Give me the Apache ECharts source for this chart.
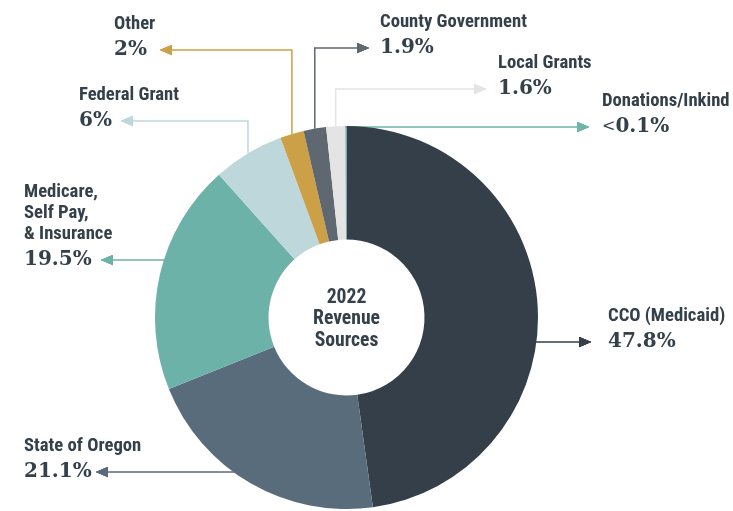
<!DOCTYPE html>
<html>
<head>
<meta charset="utf-8">
<script src="https://cdn.jsdelivr.net/npm/echarts@6/dist/echarts.min.js"></script>
<style>
  html, body { margin: 0; padding: 0; background: #fff; }
  #main { width: 733px; height: 511px; }
</style>
</head>
<body>
<div id="main"></div>
<script>
// revenue sources, clockwise from 12 o'clock
const sources = ['CCO (Medicaid)', 'State of Oregon', 'Medicare,\nSelf Pay,\n& Insurance', 'Federal Grant', 'Other', 'County Government', 'Local Grants', 'Donations/Inkind'];
const shares = [47.8, 21.1, 19.5, 6, 2, 1.9, 1.6, 0.1];
const shareLabels = ['47.8%', '21.1%', '19.5%', '6%', '2%', '1.9%', '1.6%', '<0.1%'];
const colors = ['#343f49', '#586c7b', '#6cb2a9', '#bed7da', '#cba046', '#5f6770', '#e4e4e4', '#6fb5aa'];

const CX = 346.5, CY = 317.5, R0 = 78, R1 = 191.5;
const ink = '#34404a';
const pctFont = "'DejaVu Serif', serif";
const ARW = 13, ARH = 11;

// first condensed face that is really installed, sized so the names keep the original width
const measureCtx = document.createElement('canvas').getContext('2d');
function textWidth(font, str) { measureCtx.font = font; return measureCtx.measureText(str).width; }
function pickFont(list) {
  const probe = 'County Government';
  const base = textWidth('bold 40px monospace', probe);
  for (const f of list) {
    if (textWidth("bold 40px '" + f + "', monospace", probe) !== base) return "'" + f + "'";
  }
  return 'sans-serif';
}
const nameFont = pickFont(['Liberation Sans Narrow', 'Roboto Condensed', 'Noto Sans Condensed', 'Open Sans Condensed', 'DejaVu Sans Condensed', 'Roboto']);
const nameSize = Math.min(19, 40 * 147 / textWidth('bold 40px ' + nameFont, 'County Government'));
const centerSize = Math.min(20, 40 * 67 / textWidth('bold 40px ' + nameFont, 'Revenue'));

// callout placement (text left edge, % line centre, arrow tip, leader shape)
const spots = [
  { side: 'right', textX: 608, pctY: 342, tipX: 592, path: 'flat' },
  { side: 'left', textX: 24, pctY: 472, tipX: 95, path: 'drop', from: [260, 442] },
  { side: 'left', textX: 24, pctY: 260, tipX: 100, path: 'flat' },
  { side: 'left', textX: 79, pctY: 121, tipX: 120, path: 'up' },
  { side: 'left', textX: 114, pctY: 50, tipX: 159, path: 'up' },
  { side: 'right', textX: 380, pctY: 48, tipX: 370, path: 'up' },
  { side: 'right', textX: 498, pctY: 89, tipX: 487, path: 'up' },
  { side: 'right', textX: 602, pctY: 127, tipX: 590, path: 'up' }
];

function arrowImg(color, dir) {
  const c = document.createElement('canvas');
  c.width = ARW * 4; c.height = ARH * 4;
  const g = c.getContext('2d');
  g.fillStyle = color;
  g.beginPath();
  if (dir === 'left') {
    g.moveTo(0, c.height / 2); g.lineTo(c.width, 0); g.lineTo(c.width, c.height);
  } else {
    g.moveTo(c.width, c.height / 2); g.lineTo(0, 0); g.lineTo(0, c.height);
  }
  g.closePath();
  g.fill();
  return c;
}

function callout(i) {
  const s = spots[i];
  const names = sources[i].split('\n');
  const pct = shareLabels[i];
  const rich = {
    n: { fontFamily: nameFont, fontWeight: 'bold', fontSize: nameSize, lineHeight: 21, color: ink },
    p: { fontFamily: pctFont, fontWeight: 'bold', fontSize: 20, lineHeight: 31, color: ink },
    lt: { fontFamily: pctFont, fontSize: 16, lineHeight: 31, color: ink },
    a: { width: ARW, height: ARH, lineHeight: 31, backgroundColor: { image: arrowImg(colors[i], s.side) } }
  };
  let text;
  if (s.side === 'left') {
    rich.w = { width: s.tipX - s.textX, fontFamily: pctFont, fontWeight: 'bold', fontSize: 20, lineHeight: 31, color: ink };
    text = names.map(n => '{n|' + n + '}').join('\n') + '\n{w|' + pct + '}{a|}';
  } else {
    const pad = s.textX - (s.tipX - ARW);
    rich.s = { width: pad, lineHeight: 21 };
    rich.g = { width: pad - ARW, lineHeight: 31 };
    const pctStr = pct.charAt(0) === '<' ? '{lt|<}{p|' + pct.slice(1) + '}' : '{p|' + pct + '}';
    text = names.map(n => '{s|}{n|' + n + '}').join('\n') + '\n{a|}{g|}' + pctStr;
  }
  return { show: true, position: 'outside', formatter: text, rich: rich };
}

const pieData = sources.map((name, i) => ({
  name: name,
  value: shares[i],
  itemStyle: { color: colors[i] },
  label: callout(i),
  labelLine: { show: true, lineStyle: { color: colors[i], width: 1.5 } }
}));

const chart = echarts.init(document.getElementById('main'));
chart.setOption({
  animation: false,
  graphic: [{
    type: 'text',
    x: CX,
    y: CY + 2,
    style: {
      text: '2022\nRevenue\nSources',
      fill: ink,
      fontFamily: nameFont,
      fontWeight: 'bold',
      fontSize: centerSize,
      lineHeight: 21.5,
      align: 'center',
      verticalAlign: 'middle'
    }
  }],
  series: [{
    type: 'pie',
    center: [CX, CY],
    radius: [R0, R1],
    startAngle: 90,
    clockwise: true,
    avoidLabelOverlap: false,
    emphasis: { disabled: true },
    labelLine: { show: true, smooth: false },
    labelLayout: function (params) {
      const i = params.dataIndex;
      const s = spots[i];
      const nLines = sources[i].split('\n').length;
      const top = s.pctY - 15.5 - 21 * nLines;
      const left = s.side === 'left' ? s.textX : s.tipX - ARW;
      const endX = s.side === 'left' ? s.tipX + 4 : s.tipX - 4;
      let pts;
      if (s.path === 'up') {
        const st = params.labelLinePoints ? params.labelLinePoints[0] : [CX, CY - R1];
        pts = [st, [st[0], s.pctY], [endX, s.pctY]];
      } else if (s.path === 'flat') {
        const dx = Math.sqrt(R1 * R1 - Math.pow(s.pctY - CY, 2));
        const x0 = s.side === 'left' ? CX - dx + 2 : CX + dx - 2;
        pts = [[x0, s.pctY], [(x0 + endX) / 2, s.pctY], [endX, s.pctY]];
      } else {
        pts = [s.from, [s.from[0], s.pctY], [endX, s.pctY]];
      }
      return { x: left, y: top, align: 'left', verticalAlign: 'top', labelLinePoints: pts };
    },
    data: pieData
  }]
});
</script>
</body>
</html>
